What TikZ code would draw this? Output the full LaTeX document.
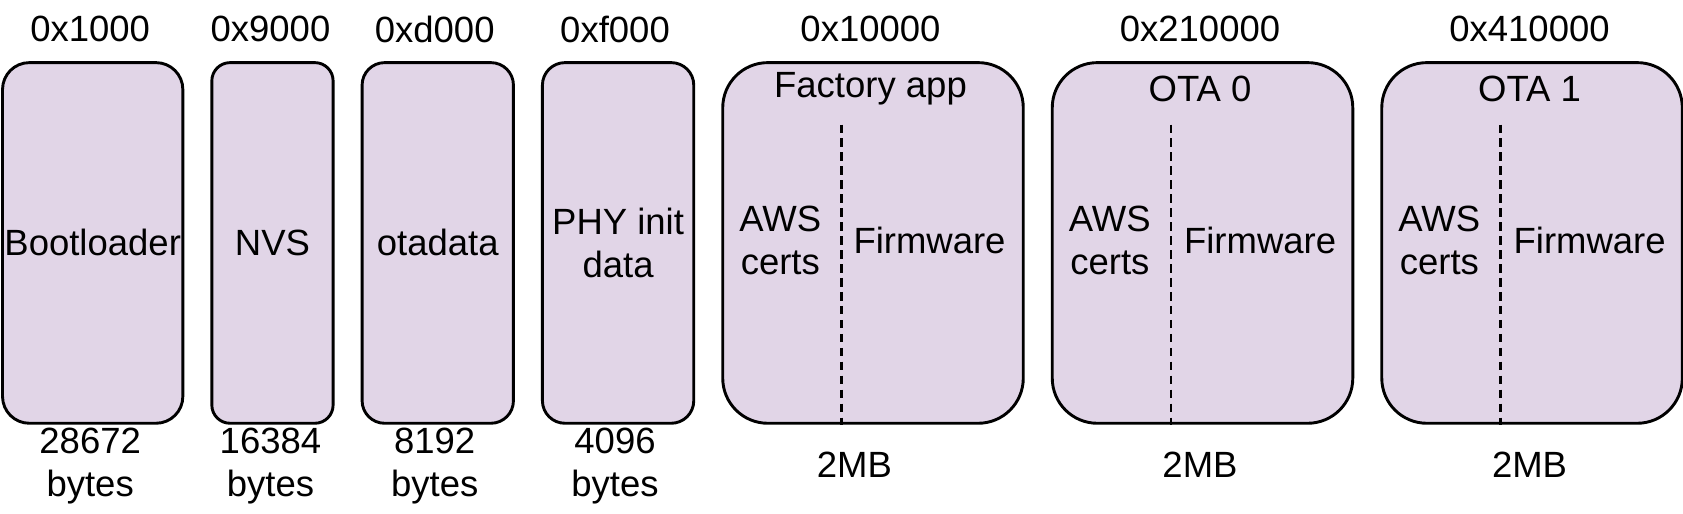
\documentclass[tikz,border=0pt]{standalone}
\usepackage{fontspec}
\setmainfont{Liberation Sans}
\definecolor{partfill}{HTML}{E1D5E7}
\begin{document}
\begin{tikzpicture}[x=1pt,y=-1pt,
  part/.style={draw=black, fill=partfill, line width=2.7pt, inner sep=0pt, anchor=north west,
    font=\fontsize{34}{40}\selectfont, align=center},
  lbl/.style={font=\fontsize{34}{40}\selectfont, align=center, inner sep=0pt},
  divider/.style={draw=black, line width=2.5pt, dash pattern=on 8pt off 5pt}]
\useasboundingbox (0,0) rectangle (1568,478);
% small partitions
\node[part, minimum width=168pt, minimum height=336pt, rounded corners=25pt] (boot) at (1,57) {Bootloader};
\node[part, minimum width=113pt, minimum height=336pt, rounded corners=17pt] (nvs) at (196,57) {NVS};
\node[part, minimum width=141pt, minimum height=336pt, rounded corners=21pt] (ota) at (336,57) {otadata};
\node[part, minimum width=141pt, minimum height=336pt, rounded corners=21pt] (phy) at (504,57) {PHY init\\data};
% app partitions
\node[part, minimum width=280pt, minimum height=336pt, rounded corners=42pt] (fac) at (672,57) {};
\node[part, minimum width=280pt, minimum height=336pt, rounded corners=42pt] (ota0) at (979,57) {};
\node[part, minimum width=280pt, minimum height=336pt, rounded corners=42pt] (ota1) at (1286,57) {};
% top addresses
\node[lbl] (a1) at (84,27) {0x1000};
\node[lbl] (a2) at (252,27) {0x9000};
\node[lbl] (a3) at (405,27) {0xd000};
\node[lbl] (a4) at (573,27) {0xf000};
\node[lbl] (a5) at (811,27) {0x10000};
\node[lbl] (a6) at (1118,27) {0x210000};
\node[lbl] (a7) at (1425,27) {0x410000};
% sizes
\node[lbl] (s1) at (84,434) {28672\\bytes};
\node[lbl] (s2) at (252,434) {16384\\bytes};
\node[lbl] (s3) at (405,434) {8192\\bytes};
\node[lbl] (s4) at (573,434) {4096\\bytes};
\node[lbl] (s5) at (796,433) {2MB};
\node[lbl] (s6) at (1118,433) {2MB};
\node[lbl] (s7) at (1425,433) {2MB};
% app titles
\node[lbl] (t5) at (811,83) {Factory app};
\node[lbl] (t6) at (1118,83) {OTA 0};
\node[lbl] (t7) at (1425,83) {OTA 1};
% inner contents
\node[lbl] (c5) at (727,224) {AWS\\certs};
\node[lbl] (f5) at (866,224) {Firmware};
\node[lbl] (c6) at (1034,224) {AWS\\certs};
\node[lbl] (f6) at (1174,224) {Firmware};
\node[lbl] (c7) at (1341,224) {AWS\\certs};
\node[lbl] (f7) at (1481,224) {Firmware};
% dividers
\coordinate (d5) at (784,116);
\coordinate (d6) at (1091,116);
\coordinate (d7) at (1398,116);
\draw[divider] (d5) -- (d5 |- fac.south);
\draw[divider] (d6) -- (d6 |- ota0.south);
\draw[divider] (d7) -- (d7 |- ota1.south);
\end{tikzpicture}
\end{document}
